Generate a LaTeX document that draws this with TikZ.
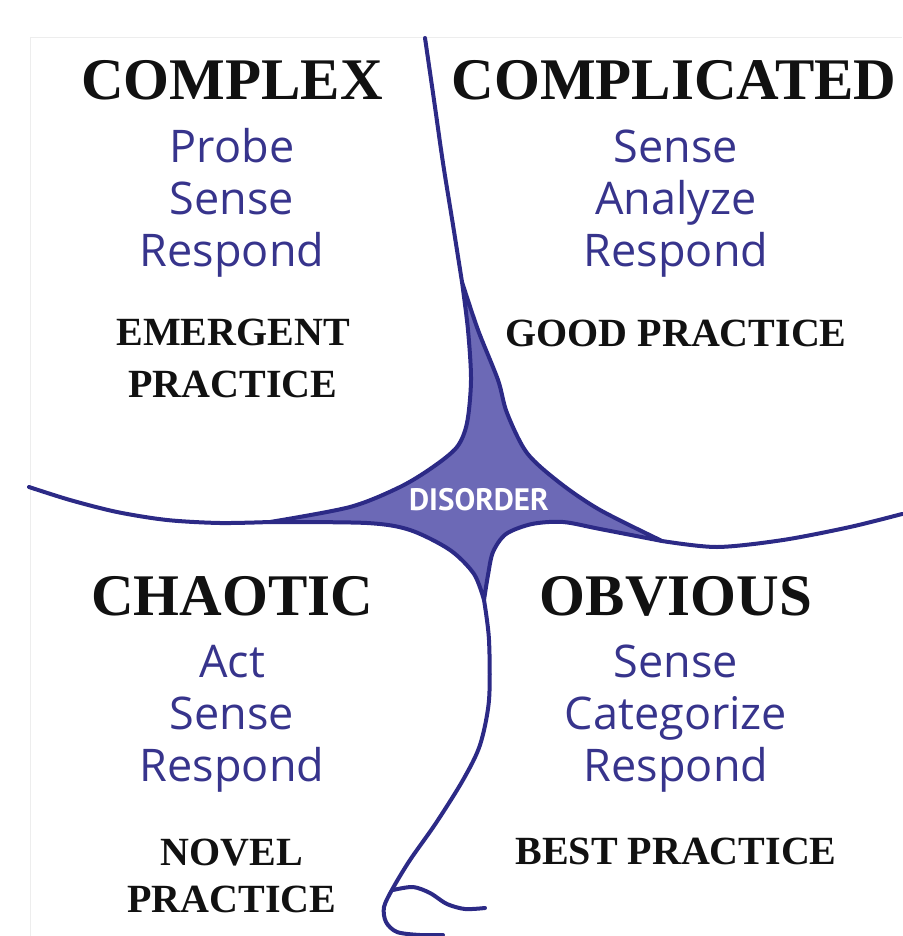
\documentclass[tikz,border=0pt]{standalone}
\usepackage{fontspec}
\setmainfont{Liberation Serif}
\newfontfamily\stepfont{Open Sans}
\newfontfamily\tagfont{PT Sans}
\usetikzlibrary{positioning}
\definecolor{inkc}{HTML}{111111}
\definecolor{linec}{HTML}{2C2A86}
\definecolor{blobc}{HTML}{6C69B6}
\definecolor{stepc}{HTML}{37348C}
\definecolor{hairc}{HTML}{EDEDED}
\tikzset{
  realm/.style  ={font=\fontsize{59}{59}\selectfont\bfseries,text=inkc,anchor=base},
  steps/.style  ={font=\stepfont\fontsize{45}{52}\selectfont,text=stepc,align=center,anchor=base},
  prac/.style   ={font=\fontsize{40}{52}\selectfont\bfseries,text=inkc,align=center,anchor=base},
  tag/.style    ={font=\tagfont\bfseries\fontsize{31}{31}\selectfont,text=white},
  rim/.style    ={draw=linec,line width=4pt,line cap=round,line join=round},
}

\begin{document}
\begin{tikzpicture}[x=1pt,y=-1pt]
\useasboundingbox (0,0) rectangle (902,936);

% ---- page edge -----------------------------------------------------------
\draw[hairc,line width=1pt] (30,936) -- (30,38) -- (902,38);

% ---- disorder in the middle ----------------------------------------------
\coordinate (top) at (462,282);
\coordinate (rgt) at (662,541);
\coordinate (bot) at (484,600);
\coordinate (lft) at (270,522);
\filldraw[rim,fill=blobc]
  plot[smooth] coordinates {(top) (478,330) (498,380) (507,413) (527,453) (560,483) (600,510) (rgt)}
  -- plot[smooth] coordinates {(rgt) (600,529) (563,522) (532,524) (506,534) (493,552) (488,575) (bot)}
  -- plot[smooth] coordinates {(bot) (474,574) (450,550) (410,530) (367,523) (lft)}
  -- plot[smooth] coordinates {(lft) (350,507) (400,487) (433,467) (457,447) (467,423) (471,380) (468,330) (top)}
  -- cycle;
\node[tag] (disorder) at (479,500) {DISORDER};

% ---- the four boundaries -------------------------------------------------
\draw[rim] plot[smooth] coordinates {(425,38) (434,100) (443,163) (453,225) (top)};
\draw[rim] plot[smooth] coordinates {(29,487) (70,500) (117,512) (167,520) (220,523) (lft)};
\draw[rim] plot[smooth] coordinates {(rgt) (717,547) (783,540) (850,527) (902,514)};
\draw[rim] plot[smooth] coordinates {(bot) (489,640) (489,700) (480,745) (463,780) (436,823) (410,860) (393,888)
  (384,907) (386,922) (397,932) (420,935) (443,935)};
\draw[rim] plot[smooth] coordinates {(393,890) (413,887) (430,893) (447,904) (465,909) (485,908)};

% ---- complex -------------------------------------------------------------
\node[realm] (complex) at (232,100) {COMPLEX};
\node[steps] (cxsteps) at (232,266) {Probe\\Sense\\Respond};
\node[prac] (cxprac) at (233,397) {EMERGENT\\PRACTICE};

% ---- complicated ---------------------------------------------------------
\node[realm] (complicated) at (674,100) {COMPLICATED};
\node[steps] (cpsteps) at (676,266) {Sense\\Analyze\\Respond};
\node[prac] (cpprac) at (676,346) {GOOD PRACTICE};

% ---- chaotic -------------------------------------------------------------
\node[realm] (chaotic) at (232,615) {CHAOTIC};
\node[steps] (chsteps) at (232,781) {Act\\Sense\\Respond};
\node[prac,font=\fontsize{40}{47}\selectfont\bfseries] (chprac) at (232,912) {NOVEL\\PRACTICE};

% ---- obvious -------------------------------------------------------------
\node[realm] (obvious) at (676,615) {OBVIOUS};
\node[steps] (obsteps) at (676,781) {Sense\\Categorize\\Respond};
\node[prac] (obprac) at (676,864) {BEST PRACTICE};
\end{tikzpicture}
\end{document}
